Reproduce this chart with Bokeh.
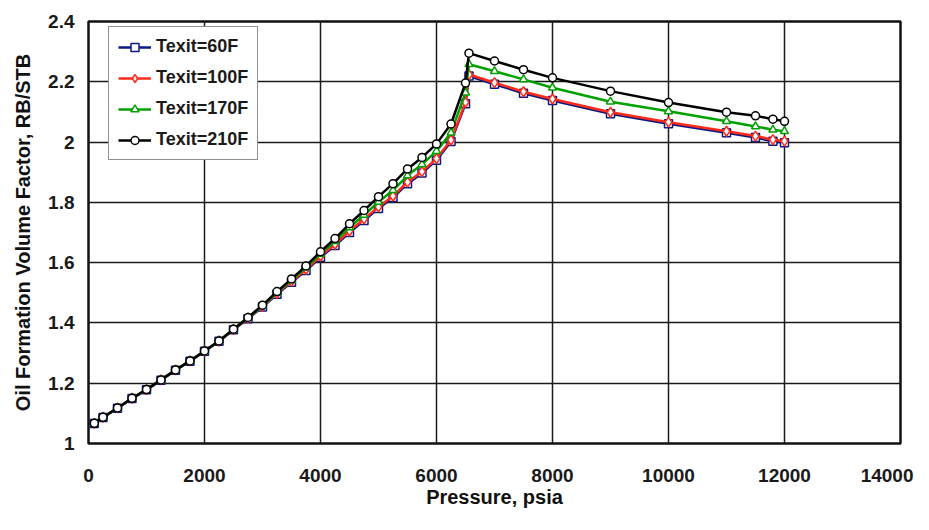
from bokeh.plotting import figure
from bokeh.models import FixedTicker, Legend
from bokeh.embed import file_html
from bokeh.resources import INLINE

# ---- data ----
pressure = [100, 250, 500, 750, 1000, 1250, 1500, 1750, 2000, 2250, 2500, 2750,
            3000, 3250, 3500, 3750, 4000, 4250, 4500, 4750, 5000, 5250, 5500,
            5750, 6000, 6250, 6500, 6560, 7000, 7500, 8000, 9000, 10000, 11000,
            11500, 11800, 12000]

bo_210 = [1.067, 1.087, 1.118, 1.150, 1.179, 1.211, 1.244, 1.274, 1.307, 1.340,
          1.379, 1.418, 1.459, 1.504, 1.546, 1.589, 1.636, 1.680, 1.729, 1.773,
          1.819, 1.862, 1.911, 1.949, 1.994, 2.060, 2.196, 2.295, 2.269, 2.240,
          2.213, 2.169, 2.131, 2.099, 2.087, 2.076, 2.069]

bo_170 = [1.067, 1.087, 1.118, 1.150, 1.179, 1.211, 1.244, 1.274, 1.307, 1.340,
          1.379, 1.417, 1.457, 1.501, 1.542, 1.584, 1.629, 1.671, 1.717, 1.758,
          1.801, 1.840, 1.889, 1.926, 1.970, 2.031, 2.164, 2.258, 2.235, 2.208,
          2.180, 2.134, 2.102, 2.069, 2.052, 2.041, 2.036]

bo_100 = [1.067, 1.087, 1.118, 1.150, 1.179, 1.211, 1.244, 1.274, 1.307, 1.340,
          1.378, 1.416, 1.455, 1.498, 1.538, 1.578, 1.622, 1.661, 1.705, 1.745,
          1.785, 1.821, 1.867, 1.902, 1.945, 2.007, 2.132, 2.224, 2.197, 2.167,
          2.143, 2.099, 2.066, 2.036, 2.020, 2.008, 2.003]

bo_60 = [1.066, 1.086, 1.117, 1.149, 1.178, 1.210, 1.243, 1.273, 1.306, 1.339,
         1.377, 1.414, 1.453, 1.495, 1.535, 1.574, 1.618, 1.657, 1.700, 1.740,
         1.780, 1.816, 1.862, 1.897, 1.940, 2.002, 2.127, 2.219, 2.192, 2.162,
         2.138, 2.094, 2.061, 2.031, 2.015, 2.003, 1.998]

series_labels = ["Texit=60F", "Texit=100F", "Texit=170F", "Texit=210F"]
series_colors = ["#0a1a80", "#ff2a1a", "#00a000", "#000000"]
series_markers = ["square", "diamond", "triangle", "circle"]

x_ticks = [0, 2000, 4000, 6000, 8000, 10000, 12000, 14000]
y_ticks = [1.0, 1.2, 1.4, 1.6, 1.8, 2.0, 2.2, 2.4]
y_tick_labels = ["1", "1.2", "1.4", "1.6", "1.8", "2", "2.2", "2.4"]

# ---- figure ----
p = figure(width=913, height=514, output_backend="svg", toolbar_location=None,
           x_range=(0, 14000), y_range=(1.0, 2.4),
           min_border_left=88, min_border_right=13, min_border_top=21,
           min_border_bottom=71)
p.background_fill_color = "white"
p.border_fill_color = "white"
p.outline_line_color = "#111111"
p.outline_line_width = 2.5

for ax in (p.xaxis[0], p.yaxis[0]):
    ax.axis_line_color = None
    ax.major_tick_line_color = None
    ax.major_tick_out = 0
    ax.major_tick_in = 0
    ax.minor_tick_line_color = None
    ax.major_label_text_font = "Liberation Sans"
    ax.major_label_text_font_size = "19px"
    ax.major_label_text_font_style = "bold"
    ax.major_label_text_color = "#1a1a1a"
    ax.axis_label_text_font = "Liberation Sans"
    ax.axis_label_text_font_size = "20px"
    ax.axis_label_text_font_style = "bold"
    ax.axis_label_text_color = "#111111"

p.xaxis.ticker = FixedTicker(ticks=x_ticks)
p.yaxis.ticker = FixedTicker(ticks=y_ticks)
p.yaxis.major_label_overrides = {t: l for t, l in zip(y_ticks, y_tick_labels)}
p.xaxis.axis_label = "Pressure, psia"
p.yaxis.axis_label = "Oil Formation Volume Factor, RB/STB"
p.xaxis.major_label_standoff = 25
p.xaxis.axis_label_standoff = 1
p.yaxis.major_label_standoff = 14
p.yaxis.axis_label_standoff = 11

p.xgrid.grid_line_color = "#1a1a1a"
p.ygrid.grid_line_color = "#1a1a1a"
p.xgrid.grid_line_width = 1.5
p.ygrid.grid_line_width = 1.5
p.xgrid.ticker = FixedTicker(ticks=x_ticks)
p.ygrid.ticker = FixedTicker(ticks=y_ticks)

items = []
for ys, lab, col, mk in zip([bo_60, bo_100, bo_170, bo_210], series_labels,
                            series_colors, series_markers):
    ln = p.line(pressure, ys, line_color=col, line_width=2.5)
    sc = p.scatter(pressure, ys, marker=mk, size=8 if mk != "diamond" else 10,
                   fill_color="white", line_color=col, line_width=1.5)
    items.append((lab, [ln, sc]))

legend = Legend(items=items, location=(20, 283))
legend.border_line_color = "#222222"
legend.border_line_width = 1.5
legend.background_fill_color = "white"
legend.background_fill_alpha = 1.0
legend.label_text_font = "Liberation Sans"
legend.label_text_font_size = "18px"
legend.label_text_font_style = "bold"
legend.label_text_color = "#1a1a1a"
legend.glyph_width = 33
legend.glyph_height = 20
legend.label_height = 20
legend.spacing = 10
legend.padding = 9
legend.margin = 0
legend.label_standoff = 5
p.add_layout(legend, "center")

open("out.html", "w").write(file_html(p, INLINE))
